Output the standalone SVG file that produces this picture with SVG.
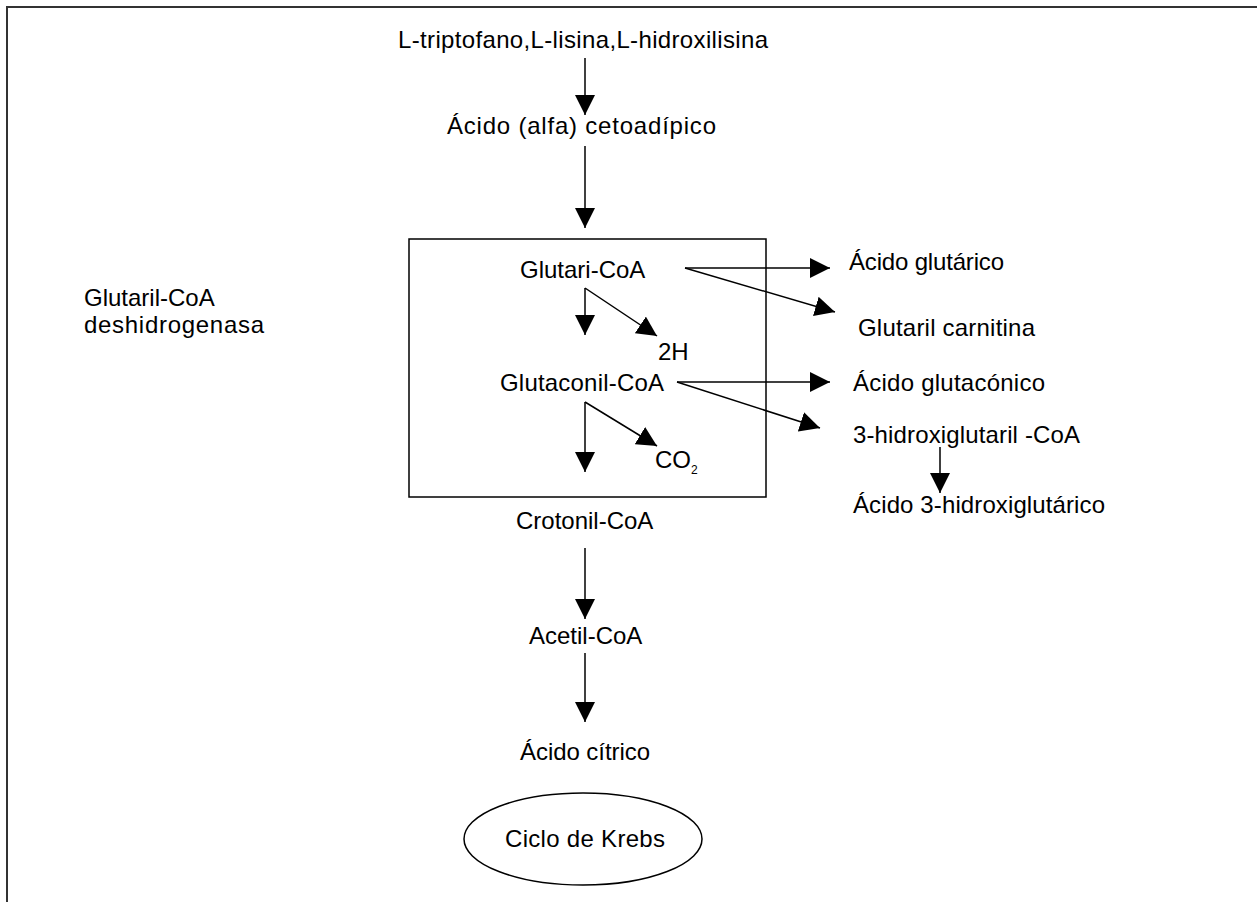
<svg xmlns="http://www.w3.org/2000/svg" width="1257" height="902" viewBox="0 0 1257 902">
<style>
text{font-family:"Liberation Sans",Arial,sans-serif;font-size:24px;fill:#000}
.ln{stroke:#000;stroke-width:1.5;fill:none}
.frame{stroke:#333;stroke-width:2;fill:none}
</style>
<defs>
<marker id="ah" viewBox="0 0 20 20" refX="20" refY="10" markerWidth="20" markerHeight="20" markerUnits="userSpaceOnUse" orient="auto">
<path d="M0,0 L20,10 L0,20 Z" fill="#000"/>
</marker>
</defs>
<rect width="1257" height="902" fill="#fff"/>
<path class="frame" d="M7,902 V7 H1257"/>
<g id="n-precursors"><text x="398" y="48" textLength="370" lengthAdjust="spacing">L-triptofano,L-lisina,L-hidroxilisina</text></g>
<g id="n-cetoadipico"><text x="447" y="134" textLength="269" lengthAdjust="spacing">Ácido (alfa) cetoadípico</text></g>
<g id="n-enzyme"><text x="84" y="306">Glutaril-CoA</text><text x="84" y="333" textLength="180" lengthAdjust="spacing">deshidrogenasa</text></g>
<g id="n-box"><rect class="ln" x="409" y="239" width="357" height="258"/></g>
<g id="n-glutaril"><text x="520" y="278">Glutari-CoA</text></g>
<g id="n-2h"><text x="658" y="360">2H</text></g>
<g id="n-glutaconil"><text x="500" y="391" textLength="164" lengthAdjust="spacing">Glutaconil-CoA</text></g>
<g id="n-co2"><text x="655" y="468">CO<tspan font-size="12" dy="6">2</tspan></text></g>
<g id="n-ac-glutarico"><text x="849" y="270" textLength="155" lengthAdjust="spacing">Ácido glutárico</text></g>
<g id="n-glutaril-carnitina"><text x="858" y="336" textLength="177" lengthAdjust="spacing">Glutaril carnitina</text></g>
<g id="n-ac-glutaconico"><text x="853" y="391" textLength="192" lengthAdjust="spacing">Ácido glutacónico</text></g>
<g id="n-3hgcoa"><text x="853" y="443" textLength="227" lengthAdjust="spacing">3-hidroxiglutaril -CoA</text></g>
<g id="n-3hga"><text x="853" y="513" textLength="252" lengthAdjust="spacing">Ácido 3-hidroxiglutárico</text></g>
<g id="n-crotonil"><text x="516" y="529">Crotonil-CoA</text></g>
<g id="n-acetil"><text x="529" y="644">Acetil-CoA</text></g>
<g id="n-citrico"><text x="520" y="760" textLength="130" lengthAdjust="spacing">Ácido cítrico</text></g>
<g id="n-krebs"><ellipse class="ln" cx="583" cy="839" rx="119" ry="46"/><text x="505" y="847" textLength="160" lengthAdjust="spacing">Ciclo de Krebs</text></g>
<g id="connectors" class="ln" marker-end="url(#ah)">
<line x1="585" y1="58" x2="585" y2="115"/>
<line x1="585" y1="146" x2="585" y2="228"/>
<line x1="685" y1="268" x2="830" y2="268"/>
<line x1="685" y1="268" x2="835" y2="312"/>
<line x1="585" y1="288" x2="585" y2="335"/>
<line x1="585" y1="288" x2="657" y2="336"/>
<line x1="677" y1="382" x2="830" y2="382"/>
<line x1="677" y1="382" x2="820" y2="428"/>
<line x1="585" y1="402" x2="585" y2="472"/>
<line x1="585" y1="402" x2="657" y2="446"/>
<line x1="940" y1="447" x2="940" y2="493"/>
<line x1="585" y1="548" x2="585" y2="619"/>
<line x1="585" y1="653" x2="585" y2="722"/>
</g>
</svg>
